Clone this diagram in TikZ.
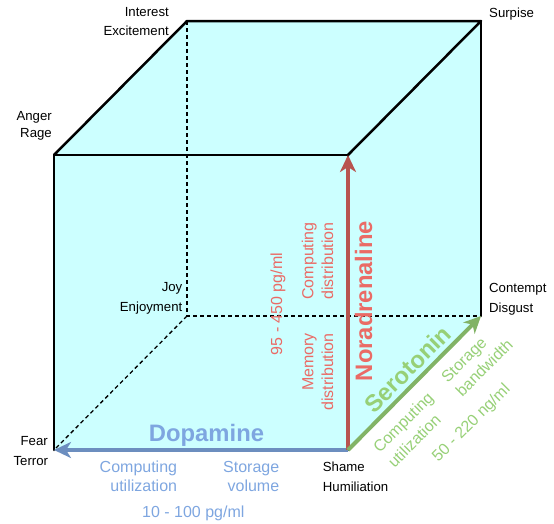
\documentclass[tikz,border=0pt]{standalone}
\usepackage{fontspec}
\setmainfont{Liberation Sans}
\usetikzlibrary{arrows.meta}
\definecolor{cubefill}{HTML}{CCFFFF}
\definecolor{noraline}{HTML}{B85450}
\definecolor{noratext}{HTML}{EA6B66}
\definecolor{dopaline}{HTML}{6C8EBF}
\definecolor{dopatext}{HTML}{7EA6E0}
\definecolor{seroline}{HTML}{82B366}
\definecolor{serotext}{HTML}{97D077}
\begin{document}
\begin{tikzpicture}[x=1pt,y=-1pt,
  edge/.style={line width=2.5pt, line join=round, line cap=round},
  hidden/.style={line width=1.3pt, dash pattern=on 4pt off 3pt},
  transmitter/.style={line width=4pt, -{Stealth[length=17pt,width=16pt,inset=5pt]}},
  lbl/.style={font=\fontsize{13.2}{16}\selectfont, inner sep=0pt, text=black},
  sm/.style={font=\fontsize{16}{19}\selectfont, inner sep=0pt},
  big/.style={font=\fontsize{23.8}{28}\selectfont\bfseries, inner sep=0pt}]
\useasboundingbox (0,0) rectangle (554,523);
% cube corners
\coordinate (A) at (54,155);
\coordinate (B) at (348,155);
\coordinate (C) at (348,450);
\coordinate (D) at (54,450);
\coordinate (E) at (187,21);
\coordinate (F) at (481,21);
\coordinate (G) at (481,316);
\coordinate (H) at (187,316);
\fill[cubefill] (D) -- (A) -- (E) -- (F) -- (G) -- (C) -- cycle;
\draw[hidden] (E) -- (H) -- (G);
\draw[hidden] (H) -- (D);
\draw[edge] (D) -- (A) -- (B) -- (C);
\draw[edge] (A) -- (E) -- (F) -- (B);
\draw[edge] (F) -- (G);
% arrows
\draw[transmitter, dopaline] (C) -- (D);
\draw[transmitter, noraline] (C) -- (B);
\draw[transmitter, seroline] (C) -- (G);
% corner labels
\node[lbl, anchor=base east] (interest) at (169,16.7) {Interest};
\node[lbl, anchor=base east] (excite) at (169,35) {Excitement};
\node[lbl, anchor=base east] (anger) at (52,120) {Anger};
\node[lbl, anchor=base east] (rage) at (52,137.5) {Rage};
\node[lbl, anchor=base west] (surprise) at (489,17) {Surpise};
\node[lbl, anchor=base east] (joy) at (182.5,291.7) {Joy};
\node[lbl, anchor=base east] (enjoy) at (182.5,311.7) {Enjoyment};
\node[lbl, anchor=base west] (contempt) at (489,292.7) {Contempt};
\node[lbl, anchor=base west] (disgust) at (489,312.3) {Disgust};
\node[lbl, anchor=base east] (fear) at (48,445) {Fear};
\node[lbl, anchor=base east] (terror) at (48.3,465) {Terror};
\node[lbl, anchor=base west] (shame) at (322.7,471.7) {Shame};
\node[lbl, anchor=base west] (humil) at (322.7,491.7) {Humiliation};
% dopamine
\node[big, text=dopatext, anchor=base] (dopa) at (206.5,441) {Dopamine};
\node[sm, text=dopatext, anchor=base east] (dcomp) at (177.3,472.7) {Computing};
\node[sm, text=dopatext, anchor=base east] (dutil) at (177.3,491) {utilization};
\node[sm, text=dopatext, anchor=base east] (dstor) at (279.4,472.7) {Storage};
\node[sm, text=dopatext, anchor=base east] (dvol) at (279.4,491) {volume};
\node[sm, text=dopatext, anchor=base] (dconc) at (193.3,517) {10 - 100 pg/ml};
% noradrenaline
\node[big, text=noratext, rotate=90, anchor=base] (nora) at (372,301) {Noradrenaline};
\node[sm, text=noratext, rotate=90, anchor=base east] (ncomp) at (313.3,222) {Computing};
\node[sm, text=noratext, rotate=90, anchor=base east] (ndist) at (333,222) {distribution};
\node[sm, text=noratext, rotate=90, anchor=base east] (nmem) at (313.3,333) {Memory};
\node[sm, text=noratext, rotate=90, anchor=base east] (nmdist) at (333,333) {distribution};
\node[sm, text=noratext, rotate=90, anchor=base] (nconc) at (282,304) {95 - 450 pg/ml};
% serotonin
\node[big, text=serotext, rotate=45] (sero) at (407.5,369) {Serotonin};
\node[sm, text=serotext, rotate=45] (scomp) at (404.2,423.3) {Computing};
\node[sm, text=serotext, rotate=45] (sutil) at (414.2,440.8) {utilization};
\node[sm, text=serotext, rotate=45] (sstor) at (465,361) {Storage};
\node[sm, text=serotext, rotate=45] (sband) at (484,367.5) {bandwidth};
\node[sm, text=serotext, rotate=45] (sconc) at (471.7,423.3) {50 - 220 ng/ml};
\end{tikzpicture}
\end{document}
